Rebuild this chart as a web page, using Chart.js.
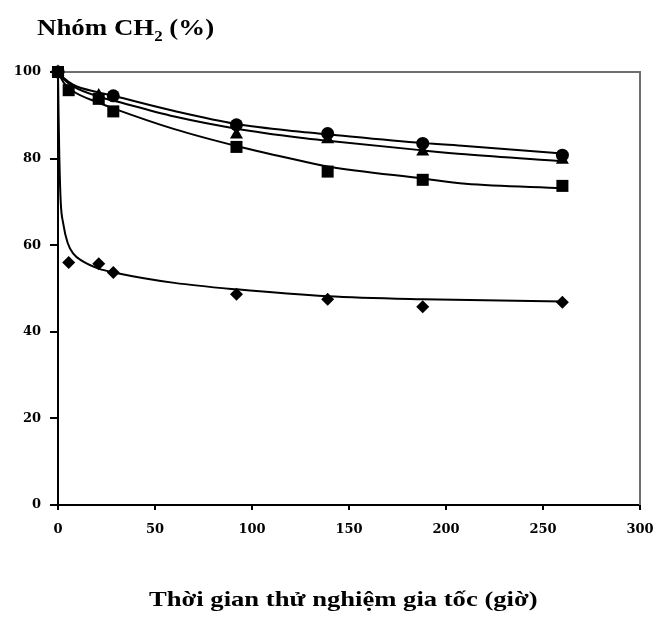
<!DOCTYPE html>
<html>
<head>
<meta charset="utf-8">
<script src="https://cdn.jsdelivr.net/npm/chart.js@4.4.0/dist/chart.umd.min.js"></script>
<style>
  body { margin: 0; background: #fff; }
  #wrap { position: relative; width: 654px; height: 618px; }
  canvas { position: absolute; left: 0; top: 0; }
  .title {
    position: absolute; font-family: "Liberation Serif", serif; font-weight: bold;
    color: #000; white-space: nowrap; transform-origin: 0 0;
  }
  #ytitle { left: 37px; top: 14px; font-size: 24px; transform: scaleX(1.12); }
  #xtitle { left: 149px; top: 586px; font-size: 22px; transform: scaleX(1.21); }
</style>
</head>
<body>
<div id="wrap">
  <canvas id="chart" width="654" height="618"></canvas>
  <div class="title" id="ytitle">Nhóm CH<sub style="font-size:15px">2</sub> (%)</div>
  <div class="title" id="xtitle">Thời gian thử nghiệm gia tốc (giờ)</div>
</div>
<script>
// measured points (hours)
const times = [0, 5.5, 21, 28.5, 92, 139, 188, 260];
const circleVals = [100, null, null, 94.5, 87.8, 85.8, 83.5, 80.8];
const triangleVals = [100, null, 94.6, null, 85.5, 84.4, 81.6, 79.7];
const squareVals = [100, 95.8, 93.8, 90.9, 82.7, 77.0, 75.1, 73.7];
const diamondVals = [100, 56.0, 55.7, 53.7, 48.7, 47.5, 45.8, 46.8];

// trend curves
const curveX = [0, 3, 8, 21, 28.5, 60, 92, 125, 139, 188, 210, 260];
const circleCurve = [100, 98.6, 97, 95.3, 94.5, 91, 88, 86.2, 85.6, 83.6, 82.9, 81.2];
const triangleCurve = [100, 98.3, 96.6, 94.3, 93.4, 89.7, 86.9, 84.8, 84.1, 81.9, 81.0, 79.4];
const squareCurve = [100, 97.5, 95.5, 92.9, 91.6, 86.8, 82.9, 79.5, 78.2, 75.4, 74.2, 73.2];
const diamondCurveX = [0, 0.3, 0.7, 1.4, 2.7, 5, 8, 12, 21, 30, 60, 92, 139, 188, 260];
const diamondCurve = [100, 90, 80, 70, 65, 60.5, 58, 56.5, 54.6, 53.6, 51.3, 49.8, 48.2, 47.5, 47];

const xTicks = [0, 50, 100, 150, 200, 250, 300];
const yTicks = [0, 20, 40, 60, 80, 100];

function pts(xs, ys) {
  const out = [];
  xs.forEach((x, i) => { if (ys[i] !== null) out.push({ x: x, y: ys[i] }); });
  return out;
}

function markers(ys, style, r) {
  return {
    data: pts(times, ys),
    showLine: false,
    clip: false,
    pointStyle: style,
    pointRadius: r,
    pointBackgroundColor: '#000',
    pointBorderColor: '#000',
    pointBorderWidth: 0
  };
}

function curve(xs, ys) {
  return {
    data: pts(xs, ys),
    showLine: true,
    borderColor: '#000',
    borderWidth: 2,
    pointRadius: 0,
    cubicInterpolationMode: 'monotone'
  };
}

// grey frame on top/right of the plot area
const frame = {
  id: 'frame',
  beforeDatasetsDraw(chart) {
    const a = chart.chartArea;
    const ctx = chart.ctx;
    ctx.save();
    ctx.strokeStyle = '#6e6e6e';
    ctx.lineWidth = 2;
    ctx.beginPath();
    ctx.moveTo(a.left, a.top);
    ctx.lineTo(a.right, a.top);
    ctx.lineTo(a.right, a.bottom);
    ctx.stroke();
    ctx.restore();
  }
};

const tickFont = { family: 'DejaVu Serif', weight: 'bold', size: 13 };

new Chart(document.getElementById('chart'), {
  type: 'scatter',
  data: {
    datasets: [
      markers(circleVals, 'circle', 6.5),
      markers(triangleVals, 'triangle', 7.5),
      markers(squareVals, 'rect', 8.5),
      markers(diamondVals, 'rectRot', 6.5),
      curve(curveX, circleCurve),
      curve(curveX, triangleCurve),
      curve(curveX, squareCurve),
      curve(diamondCurveX, diamondCurve)
    ]
  },
  options: {
    responsive: false,
    animation: false,
    layout: { padding: { left: 0, top: 72, right: 14, bottom: 83 } },
    plugins: { legend: { display: false }, tooltip: { enabled: false } },
    scales: {
      x: {
        type: 'linear', min: 0, max: 300,
        afterBuildTicks: s => { s.ticks = xTicks.map(v => ({ value: v })); },
        afterFit: s => { s.height = 30; s.paddingLeft = 0; s.paddingRight = 0; },
        border: { color: '#000', width: 2 },
        grid: { display: true, drawOnChartArea: false, color: '#000', lineWidth: 2, tickLength: 5 },
        ticks: { color: '#000', font: tickFont, padding: 12, maxRotation: 0 }
      },
      y: {
        min: 0, max: 100,
        afterBuildTicks: s => { s.ticks = yTicks.map(v => ({ value: v })); },
        afterFit: s => { s.width = 58; s.paddingTop = 0; s.paddingBottom = 0; },
        border: { color: '#000', width: 2 },
        grid: { display: true, drawOnChartArea: false, color: '#000', lineWidth: 2, tickLength: 8 },
        ticks: { color: '#000', font: tickFont, padding: 9 }
      }
    }
  },
  plugins: [frame]
});
</script>
</body>
</html>
